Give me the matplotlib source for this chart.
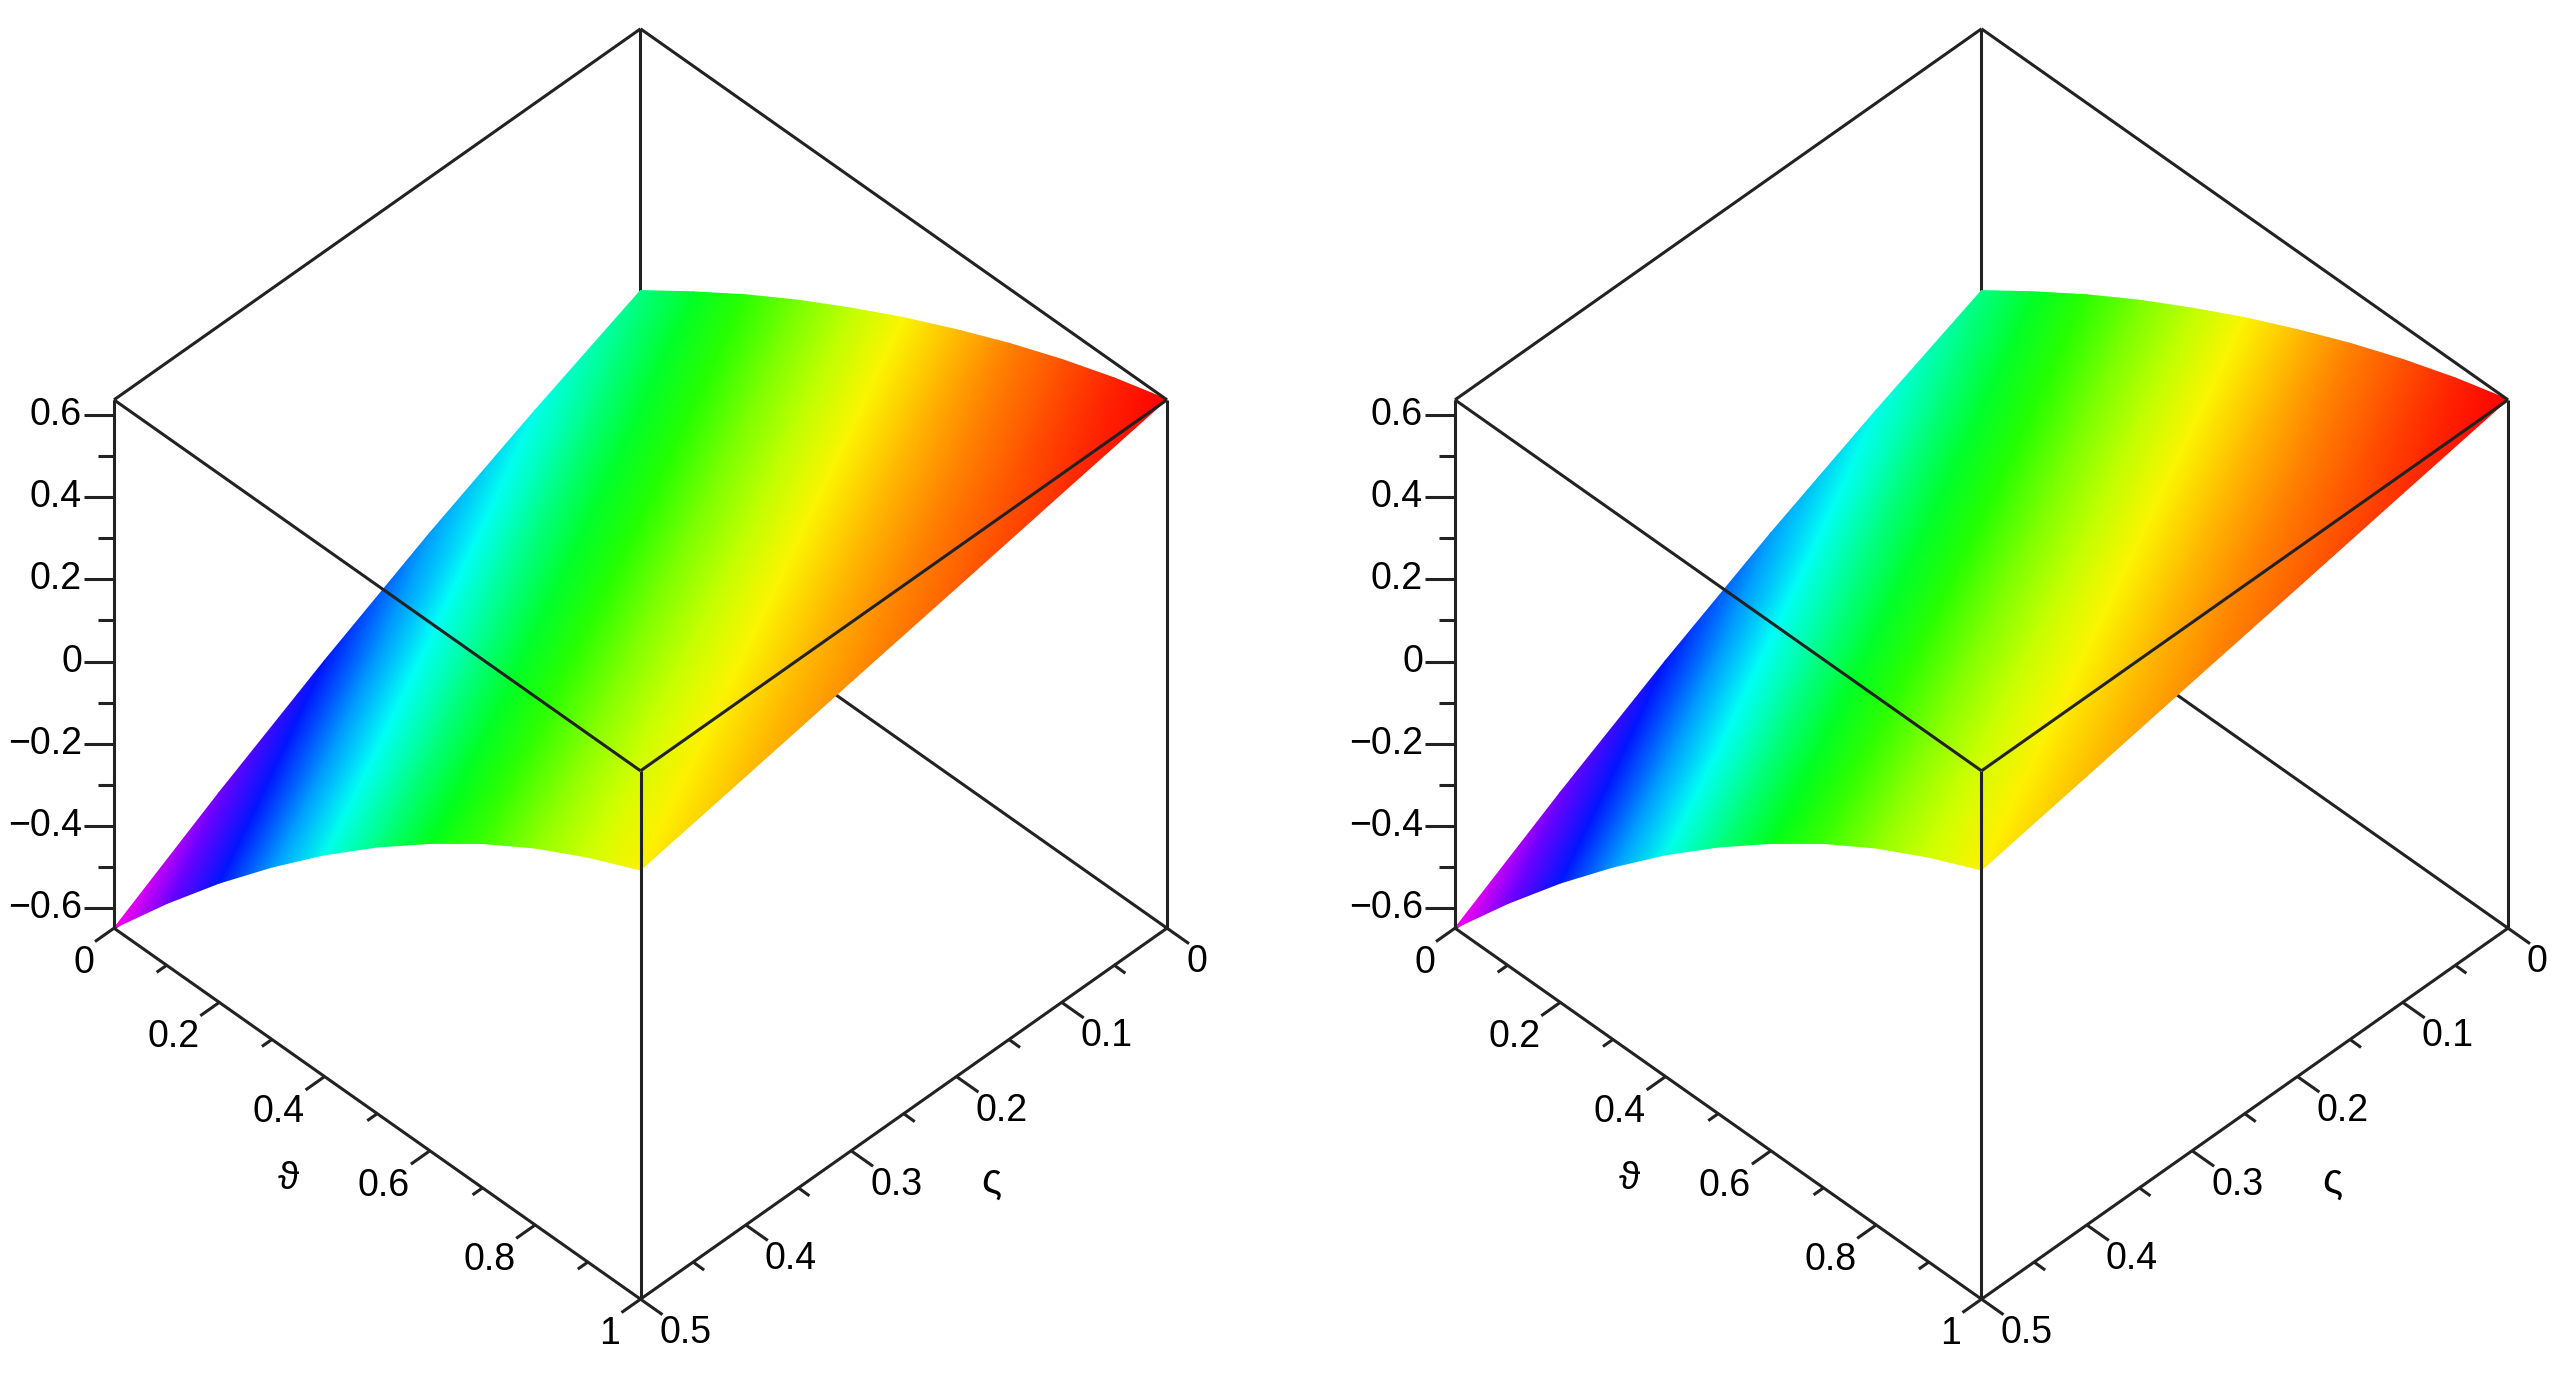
import numpy as np
import matplotlib
matplotlib.use("Agg")
import matplotlib.pyplot as plt
import matplotlib.tri as mtri
from mpl_toolkits.mplot3d import proj3d

W, H = 2568, 1386
plt.rcParams['font.family'] = ['Liberation Sans', 'DejaVu Sans']

# values
theta = [0, 0.1, 0.2, 0.3, 0.4, 0.5, 0.6, 0.7, 0.8, 0.9, 1]
sigma = [0, 0.1, 0.2, 0.3, 0.4, 0.5]
z_s00 = [0.000, 0.087, 0.170, 0.247, 0.318, 0.385, 0.446, 0.503, 0.554, 0.599, 0.637]
z_s01 = [-0.110, -0.012, 0.080, 0.166, 0.245, 0.318, 0.385, 0.446, 0.501, 0.548, 0.589]
z_s02 = [-0.228, -0.119, -0.016, 0.079, 0.165, 0.246, 0.319, 0.386, 0.446, 0.497, 0.540]
z_s03 = [-0.358, -0.236, -0.122, -0.017, 0.080, 0.169, 0.250, 0.324, 0.388, 0.444, 0.492]
z_s04 = [-0.498, -0.363, -0.236, -0.120, -0.012, 0.087, 0.176, 0.258, 0.329, 0.391, 0.443]
z_s05 = [-0.648, -0.498, -0.358, -0.229, -0.109, 0.000, 0.099, 0.189, 0.268, 0.336, 0.395]

zlim = (-0.648, 0.636)
z_major = [-0.6, -0.4, -0.2, 0, 0.2, 0.4, 0.6]
z_minor = [-0.5, -0.3, -0.1, 0.1, 0.3, 0.5]
z_labels = ['\u22120.6', '\u22120.4', '\u22120.2', '0', '0.2', '0.4', '0.6']
t_major = [0, 0.2, 0.4, 0.6, 0.8, 1]
t_minor = [0.1, 0.3, 0.5, 0.7, 0.9]
t_labels = ['0', '0.2', '0.4', '0.6', '0.8', '1']
s_major = [0, 0.1, 0.2, 0.3, 0.4, 0.5]
s_minor = [0.05, 0.15, 0.25, 0.35, 0.45]
s_labels = ['0', '0.1', '0.2', '0.3', '0.4', '0.5']

line_col = '#222222'
half_w = 526.5   # screen half width of the box
drop = 371.0     # screen drop of a bottom edge
fs = 27

fig = plt.figure(figsize=(W / 100, H / 100), dpi=100, facecolor='white')


def shift(dx, dy):
    # pixel offset (dy is downwards) as a step in sigma, theta
    a = (dx / half_w + dy / drop) / 2
    b = (dy / drop - dx / half_w) / 2
    return 0.5 * b, a


def to_px(ax, x, y, z):
    ax.apply_aspect()
    xs, ys, _ = proj3d.proj_transform(np.asarray(x, float), np.asarray(y, float), np.asarray(z, float), ax.get_proj())
    return ax.transData.transform(np.column_stack([xs, ys]))


def box_axes(cx, cy, zo):
    S = 1386
    ax = fig.add_axes([(cx - S / 2) / W, (H - cy - S / 2) / H, S / W, S / H],
                      projection='3d', proj_type='ortho', computed_zorder=False, zorder=zo)
    ax.view_init(elev=44.8, azim=45)
    ax.set_xlim(0, 0.5, view_margin=0)
    ax.set_ylim(0, 1, view_margin=0)
    ax.set_zlim(*zlim, view_margin=0)
    ax.set_box_aspect((1, 1, 1), zoom=1)
    p = to_px(ax, [0.5, 0], [0, 1], [zlim[0], zlim[0]])
    ax.set_box_aspect((1, 1, 1), zoom=2 * half_w / (p[1, 0] - p[0, 0]))
    # move the axes so the box centre lands on cx, cy
    c = to_px(ax, [0.25], [0.5], [sum(zlim) / 2])[0]
    pos = ax.get_position()
    ax.set_position([pos.x0 + (cx - c[0]) / W, pos.y0 + (H - cy - c[1]) / H, pos.width, pos.height])
    ax.set_axis_off()
    ax.patch.set_visible(False)
    return ax


def edge(ax, a, b, lw=2.2):
    ax.plot([a[0], b[0]], [a[1], b[1]], [a[2], b[2]], color=line_col, lw=lw, solid_capstyle='butt')


def panel(cx, rows):
    cy = 664.0
    z0, z1 = zlim
    back = box_axes(cx, cy, 1)
    front = box_axes(cx, cy, 3)

    # edges hidden by the surface
    edge(back, (0, 0, z0), (0, 0, z1))
    edge(back, (0, 0, z0), (0, 1, z0))
    edge(back, (0, 0, z0), (0.5, 0, z0))

    # surface, gouraud shaded in pixel space
    T, Sg = np.meshgrid(theta, sigma)
    Z = np.array(rows)
    px = to_px(front, Sg.ravel(), T.ravel(), Z.ravel())
    nt, ns = len(theta), len(sigma)
    tris = []
    for j in range(ns - 1):
        for i in range(nt - 1):
            k = j * nt + i
            tris.append([k, k + 1, k + nt + 1])
            tris.append([k, k + nt + 1, k + nt])
    ax_s = fig.add_axes([0, 0, 1, 1], zorder=2)
    ax_s.set_xlim(0, W)
    ax_s.set_ylim(0, H)
    ax_s.axis('off')
    ax_s.patch.set_visible(False)
    tri = mtri.Triangulation(px[:, 0], px[:, 1], tris)
    ax_s.tripcolor(tri, Z.ravel(), shading='gouraud', cmap='hsv_r', vmin=0.637 - 1.507, vmax=0.637)

    def label(x, y, z, s, ha, size=fs):
        p = to_px(front, [x], [y], [z])[0]
        ax_s.text(p[0], p[1], s, ha=ha, va='center', fontsize=size, color='black')

    # front edges
    edge(front, (0.5, 0, z0), (0.5, 0, z1))
    edge(front, (0, 1, z0), (0, 1, z1))
    edge(front, (0.5, 1, z0), (0.5, 1, z1))
    edge(front, (0, 0, z1), (0.5, 0, z1))
    edge(front, (0, 0, z1), (0, 1, z1))
    edge(front, (0.5, 0, z1), (0.5, 1, z1))
    edge(front, (0, 1, z1), (0.5, 1, z1))
    edge(front, (0.5, 0, z0), (0.5, 1, z0))
    edge(front, (0, 1, z0), (0.5, 1, z0))

    # z axis
    ds, dt = shift(-30, 0)
    for v, lab in zip(z_major, z_labels):
        edge(front, (0.5, 0, v), (0.5 + ds, dt, v))
        ls, lt = shift(-32, 0)
        label(0.5 + ls, lt, v, lab, 'right')
    ds, dt = shift(-16, 0)
    for v in z_minor:
        edge(front, (0.5, 0, v), (0.5 + ds, dt, v))

    # theta axis
    ds, dt = shift(-19, 13.4)
    for v, lab in zip(t_major, t_labels):
        edge(front, (0.5, v, z0), (0.5 + ds, v + dt, z0))
        ls, lt = shift(-20, 35)
        label(0.5 + ls, v + lt, z0, lab, 'right')
    ds, dt = shift(-10, 7)
    for v in t_minor:
        edge(front, (0.5, v, z0), (0.5 + ds, v + dt, z0))

    # sigma axis
    ds, dt = shift(22, 15.5)
    for v, lab in zip(s_major, s_labels):
        edge(front, (v, 1, z0), (v + ds, 1 + dt, z0))
        ls, lt = shift(19, 34)
        label(v + ls, 1 + lt, z0, lab, 'left')
    ds, dt = shift(11, 8)
    for v in s_minor:
        edge(front, (v, 1, z0), (v + ds, 1 + dt, z0))

    # axis names
    ls, lt = shift(-89, 65)
    label(0.5 + ls, 0.5 + lt, z0, '\u03d1', 'center', fs + 1)
    ls, lt = shift(87, 68)
    label(0.25 + ls, 1 + lt, z0, '\u03c2', 'center', fs + 3)


z_rows = [z_s00, z_s01, z_s02, z_s03, z_s04, z_s05]
panel(640.5, z_rows)
panel(640.5 + 1341, z_rows)

fig.savefig('out.png', dpi=100, facecolor='white')
